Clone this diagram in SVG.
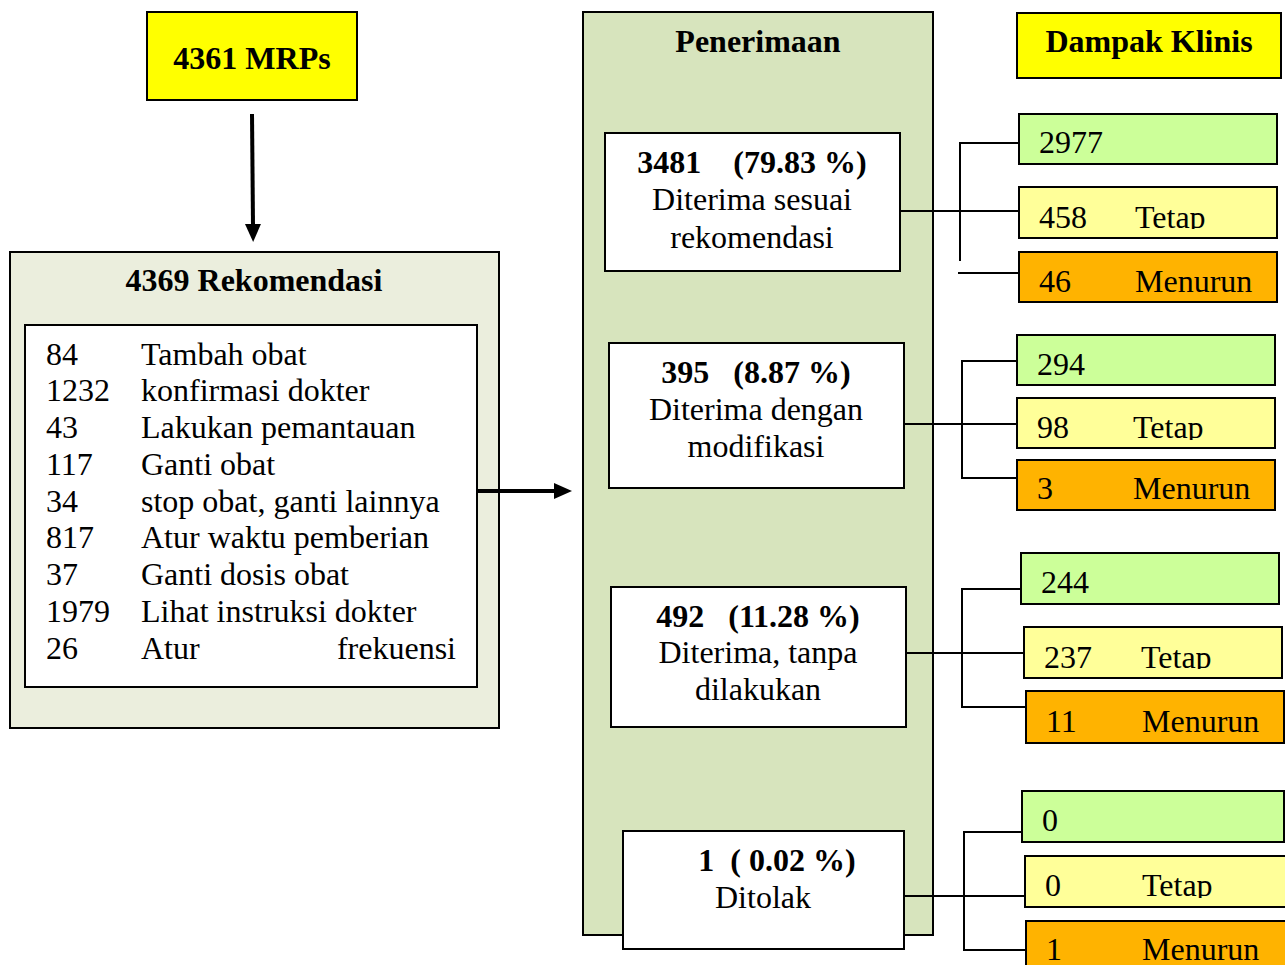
<svg xmlns="http://www.w3.org/2000/svg" width="1285" height="965" viewBox="0 0 1285 965">
<defs>
<style>
text{font-family:"Liberation Serif","Times New Roman",serif;font-size:32px;fill:#000}
.b{font-weight:bold}
.m{text-anchor:middle}
.box{stroke:#000;stroke-width:2}
.yel{fill:#FFFF00}
.grn{fill:#CCFF99}
.lyl{fill:#FFFF99}
.org{fill:#FFB300}
.wht{fill:#FFFFFF}
.con{stroke:#000;stroke-width:2;fill:none}
.arr{stroke:#000;stroke-width:4;fill:none}
</style>
<marker id="ah" markerWidth="4.5" markerHeight="4" refX="0.5" refY="2" orient="auto" markerUnits="strokeWidth">
<path d="M0,0 L4.5,2 L0,4 Z" fill="#000"/>
</marker>
<clipPath id="c1"><rect x="1019" y="187" width="258" height="42"/></clipPath>
<clipPath id="c2"><rect x="1017" y="398" width="258" height="42"/></clipPath>
<clipPath id="c3"><rect x="1024" y="627" width="258" height="42"/></clipPath>
<clipPath id="c4"><rect x="1025" y="856" width="260" height="42"/></clipPath>
</defs>
<rect width="1285" height="965" fill="#fff"/>

<g id="mrps">
<rect class="box yel" x="147" y="12" width="210" height="88"/>
<text class="b m" x="252" y="69">4361 MRPs</text>
</g>

<g id="rekomendasi">
<rect class="box" fill="#EBEEDD" x="10" y="252" width="489" height="476"/>
<text class="b m" x="254" y="291">4369 Rekomendasi</text>
<rect class="box wht" x="25" y="325" width="452" height="362"/>
<text x="46" y="365">84</text><text x="141" y="365">Tambah obat</text>
<text x="46" y="401">1232</text><text x="141" y="401">konfirmasi dokter</text>
<text x="46" y="438">43</text><text x="141" y="438">Lakukan pemantauan</text>
<text x="46" y="475">117</text><text x="141" y="475">Ganti obat</text>
<text x="46" y="512">34</text><text x="141" y="512">stop obat, ganti lainnya</text>
<text x="46" y="548">817</text><text x="141" y="548">Atur waktu pemberian</text>
<text x="46" y="585">37</text><text x="141" y="585">Ganti dosis obat</text>
<text x="46" y="622">1979</text><text x="141" y="622">Lihat instruksi dokter</text>
<text x="46" y="659">26</text><text x="141" y="659">Atur</text><text x="456" y="659" text-anchor="end">frekuensi</text>
</g>

<g id="penerimaan">
<rect class="box" fill="#D7E4BD" x="583" y="12" width="350" height="923"/>
<text class="b m" x="758" y="52">Penerimaan</text>
</g>

<g id="acc1">
<rect class="box wht" x="605" y="133" width="295" height="138"/>
<text class="b m" x="752" y="173" xml:space="preserve">3481    (79.83 %)</text>
<text class="m" x="752" y="210">Diterima sesuai</text>
<text class="m" x="752" y="248">rekomendasi</text>
</g>
<g id="acc2">
<rect class="box wht" x="609" y="343" width="295" height="145"/>
<text class="b m" x="756" y="383" xml:space="preserve">395   (8.87 %)</text>
<text class="m" x="756" y="420">Diterima dengan</text>
<text class="m" x="756" y="457">modifikasi</text>
</g>
<g id="acc3">
<rect class="box wht" x="611" y="587" width="295" height="140"/>
<text class="b m" x="758" y="627" xml:space="preserve">492   (11.28 %)</text>
<text class="m" x="758" y="663">Diterima, tanpa</text>
<text class="m" x="758" y="700">dilakukan</text>
</g>
<g id="acc4">
<rect class="box wht" x="623" y="831" width="281" height="118"/>
<text class="b m" x="777" y="871" xml:space="preserve">1  ( 0.02 %)</text>
<text class="m" x="763" y="908">Ditolak</text>
</g>

<g id="dampak">
<rect class="box yel" x="1017" y="13" width="264" height="65"/>
<text class="b m" x="1149" y="52">Dampak Klinis</text>
</g>

<g id="g1a"><rect class="box grn" x="1019" y="114" width="258" height="50"/><text x="1039" y="153">2977</text></g>
<g id="g1b"><rect class="box lyl" x="1019" y="187" width="258" height="51"/><g clip-path="url(#c1)"><text x="1039" y="228">458</text><text x="1135" y="228">Tetap</text></g></g>
<g id="g1c"><rect class="box org" x="1019" y="252" width="258" height="50"/><text x="1039" y="292">46</text><text x="1135" y="292">Menurun</text></g>

<g id="g2a"><rect class="box grn" x="1017" y="335" width="258" height="50"/><text x="1037" y="375">294</text></g>
<g id="g2b"><rect class="box lyl" x="1017" y="398" width="258" height="50"/><g clip-path="url(#c2)"><text x="1037" y="438">98</text><text x="1133" y="438">Tetap</text></g></g>
<g id="g2c"><rect class="box org" x="1017" y="460" width="258" height="50"/><text x="1037" y="499">3</text><text x="1133" y="499">Menurun</text></g>

<g id="g3a"><rect class="box grn" x="1021" y="553" width="258" height="51"/><text x="1041" y="593">244</text></g>
<g id="g3b"><rect class="box lyl" x="1024" y="627" width="258" height="51"/><g clip-path="url(#c3)"><text x="1044" y="668">237</text><text x="1141" y="668">Tetap</text></g></g>
<g id="g3c"><rect class="box org" x="1026" y="691" width="258" height="52"/><text x="1046" y="732">11</text><text x="1142" y="732">Menurun</text></g>

<g id="g4a"><rect class="box grn" x="1022" y="791" width="262" height="51"/><text x="1042" y="831">0</text></g>
<g id="g4b"><rect class="box lyl" x="1025" y="856" width="262" height="51"/><g clip-path="url(#c4)"><text x="1045" y="896">0</text><text x="1142" y="896">Tetap</text></g></g>
<g id="g4c"><rect class="box org" x="1026" y="921" width="262" height="50"/><text x="1046" y="960">1</text><text x="1142" y="960">Menurun</text></g>

<g id="connectors">
<line class="arr" x1="252" y1="114" x2="253" y2="226" marker-end="url(#ah)"/>
<line class="arr" x1="478" y1="491" x2="556" y2="491" marker-end="url(#ah)"/>
<path class="con" d="M900,211 H1019 M1019,143 H960 V261 M958,273 H1019"/>
<path class="con" d="M904,424 H1017 M1017,361 H962 V478 H1017"/>
<path class="con" d="M906,653 H1024 M1021,589 H962 V707 H1026"/>
<path class="con" d="M904,896 H1025 M1022,832 H964 V950 H1026"/>
</g>
</svg>
